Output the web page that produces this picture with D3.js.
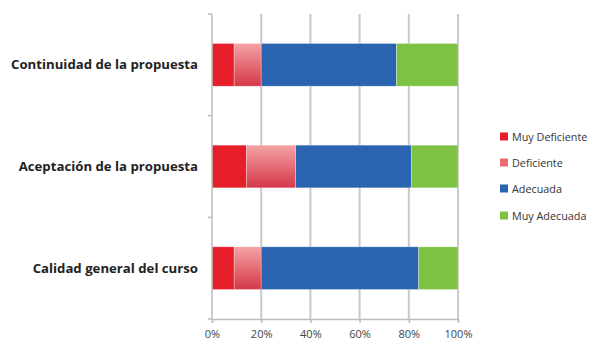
<!DOCTYPE html>
<html>
<head>
<meta charset="utf-8">
<script src="https://cdn.jsdelivr.net/npm/d3@7"></script>
<style>
  html, body { margin: 0; padding: 0; background: #fff; }
  svg { display: block; }
</style>
</head>
<body>
<svg id="chart" width="606" height="344"></svg>
<script>
// Survey categories, top to bottom
const categories = ["Continuidad de la propuesta", "Aceptación de la propuesta", "Calidad general del curso"];
// Rating levels (stacked left to right)
const levels = ["Muy Deficiente", "Deficiente", "Adecuada", "Muy Adecuada"];
// Percentages per rating level, one per category
const muyDeficiente = [9, 14, 9];
const deficiente    = [11, 20, 11];
const adecuada      = [55, 47, 64];
const muyAdecuada   = [25, 19, 16];
const xTicks = [0, 20, 40, 60, 80, 100];

const series = [muyDeficiente, deficiente, adecuada, muyAdecuada];
const rows = categories.map((c, i) => {
  const r = { category: c };
  levels.forEach((l, j) => r[l] = series[j][i]);
  return r;
});

const svg = d3.select("#chart");
const defs = svg.append("defs");
const grad = defs.append("linearGradient")
  .attr("id", "defGrad").attr("x1", 0).attr("y1", 0).attr("x2", 0).attr("y2", 1);
grad.append("stop").attr("offset", "0%").attr("stop-color", "#f5a3a5");
grad.append("stop").attr("offset", "100%").attr("stop-color", "#d43848");

const fills = ["#e61e2a", "url(#defGrad)", "#2a64b0", "#7dc242"];
const legendColors = ["#e61e2a", "#e86a72", "#2a64b0", "#7dc242"];

const plotLeft = 212, plotRight = 458, plotTop = 14, plotBottom = 319;
const x = d3.scaleLinear().domain([0, 100]).range([plotLeft, plotRight]);
const y = d3.scaleBand().domain(categories).range([plotTop, plotBottom]).paddingInner(0.58).paddingOuter(0.29);

// Vertical gridlines
svg.append("g").selectAll("line").data(xTicks.slice(1)).join("line")
  .attr("x1", d => x(d)).attr("x2", d => x(d))
  .attr("y1", plotTop).attr("y2", plotBottom)
  .attr("stroke", "#c9c9c9").attr("stroke-width", 2);

// Stacked bars
const stacked = d3.stack().keys(levels)(rows);
svg.append("g").selectAll("g").data(stacked).join("g")
  .attr("fill", (d, i) => fills[i])
  .selectAll("rect").data(d => d).join("rect")
  .attr("x", d => x(d[0]))
  .attr("width", d => x(d[1]) - x(d[0]))
  .attr("y", d => y(d.data.category))
  .attr("height", y.bandwidth())
  .attr("stroke", "rgba(255,255,255,0.5)").attr("stroke-width", 0.6);

// Axes
const xAxis = d3.axisBottom(x).tickValues(xTicks).tickFormat(d => d + "%").tickSize(4).tickPadding(7);
const gx = svg.append("g").attr("transform", `translate(0,${plotBottom})`).call(xAxis);
gx.select(".domain").attr("stroke", "#bdbdbd").attr("stroke-width", 1.5);
gx.selectAll(".tick line").attr("stroke", "#bdbdbd").attr("stroke-width", 1.5);
gx.selectAll("text").attr("font-family", "'Open Sans', sans-serif").attr("font-size", 11).attr("fill", "#444");

const yEdges = [plotTop, ...categories.slice(1).map(c => y(c) - y.step() * y.paddingInner() / 2), plotBottom];
const ga = svg.append("g");
ga.append("line").attr("x1", plotLeft).attr("x2", plotLeft).attr("y1", plotTop).attr("y2", plotBottom)
  .attr("stroke", "#bdbdbd").attr("stroke-width", 1.5);
ga.selectAll("line.t").data(yEdges).join("line").attr("class", "t")
  .attr("x1", plotLeft - 4).attr("x2", plotLeft).attr("y1", d => d).attr("y2", d => d)
  .attr("stroke", "#bdbdbd").attr("stroke-width", 1.5);

// Category labels
svg.append("g").selectAll("text").data(categories).join("text")
  .attr("x", 198).attr("y", d => y(d) + y.bandwidth() / 2)
  .attr("dy", "0.35em").attr("text-anchor", "end")
  .attr("font-family", "'Open Sans', sans-serif").attr("font-weight", 700)
  .attr("font-size", 13.2).attr("fill", "#222")
  .text(d => d);

// Legend
const legendY = [137, 163, 189, 216];
const lg = svg.append("g").selectAll("g").data(levels).join("g")
  .attr("transform", (d, i) => `translate(500,${legendY[i]})`);
lg.append("rect").attr("x", 0).attr("y", -4.5).attr("width", 8).attr("height", 8)
  .attr("fill", (d, i) => legendColors[i]);
lg.append("text").attr("x", 12).attr("dy", "0.35em")
  .attr("font-family", "'Open Sans', sans-serif").attr("font-size", 10.8).attr("fill", "#333")
  .text(d => d);
</script>
</body>
</html>
